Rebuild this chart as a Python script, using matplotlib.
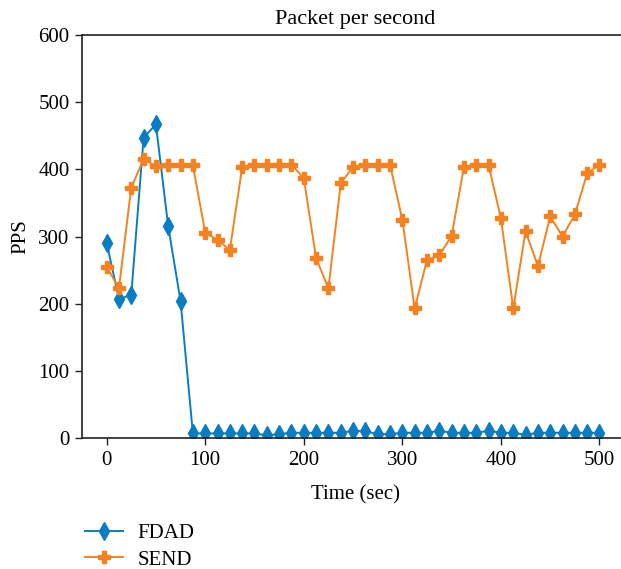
import matplotlib
matplotlib.use("Agg")
import matplotlib.pyplot as plt
import numpy as np

plt.rcParams['font.family'] = ['Liberation Serif', 'DejaVu Serif']

time = [i * 12.5 for i in range(41)]
fdad = [291, 207, 213, 447, 467, 315, 204, 7, 7, 7, 7, 7, 7, 4, 6, 8,
        8, 8, 8, 8, 11, 10, 6, 6, 8, 8, 8, 11, 8, 8, 8, 11, 8, 8, 5, 8,
        8, 8, 8, 8, 8]
send = [255, 223, 373, 415, 405, 406, 406, 406, 306, 295, 280, 403, 406, 407,
        407, 407, 387, 268, 223, 379, 404, 407, 407, 407, 325, 193, 265, 272,
        301, 404, 407, 406, 327, 193, 308, 256, 330, 300, 333, 394, 407]

title = "Packet per second"
xlabel = "Time (sec)"
ylabel = "PPS"
xticks = [0, 100, 200, 300, 400, 500]
yticks = [0, 100, 200, 300, 400, 500, 600]

fig = plt.figure(figsize=(6.21, 5.69), dpi=100)
ax = fig.add_axes([0.132, 0.230, 0.881, 0.7085])

blue = '#0A7DC2'
orange = '#F58220'
l1, = ax.plot(time, fdad, color=blue, marker='d', markersize=9, linewidth=1.4, label='FDAD')
l2, = ax.plot(time, send, color=orange, marker='P', markersize=8, linewidth=1.4, label='SEND')

ax.set_xlim(-25, 530)
ax.set_ylim(0, 600)
ax.set_xticks(xticks)
ax.set_yticks(yticks)
ax.tick_params(direction='out', length=5, width=1, labelsize=15, color='#222222', pad=4)
for s in ['left', 'bottom', 'top', 'right']:
    ax.spines[s].set_linewidth(1.2)
    ax.spines[s].set_color('#222222')
ax.set_title(title, fontsize=16, pad=8)
ax.set_xlabel(xlabel, fontsize=15, labelpad=11)
ax.set_ylabel(ylabel, fontsize=15, labelpad=6)

fig.legend(handles=[l1, l2], loc='upper left', bbox_to_anchor=(0.124, 0.095),
           frameon=False, fontsize=15, handlelength=1.8, handletextpad=0.7,
           labelspacing=0.35, borderaxespad=0)

fig.savefig('out.png', dpi=100)
